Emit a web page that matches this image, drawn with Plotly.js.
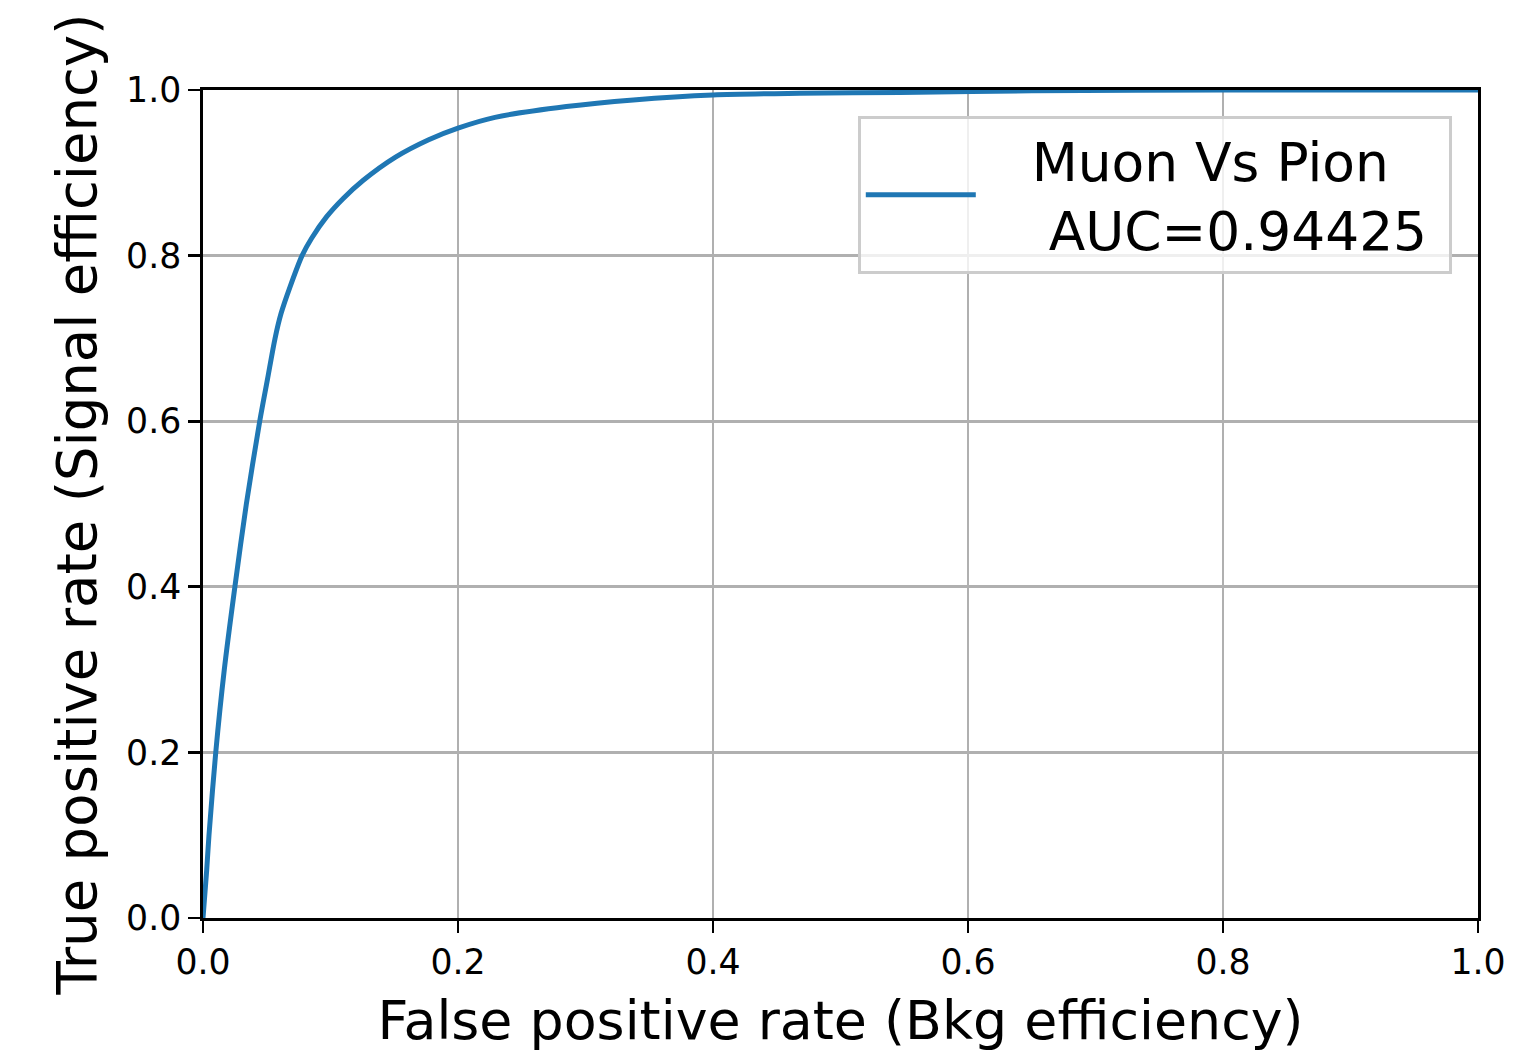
<!DOCTYPE html>
<html>
<head>
<meta charset="utf-8">
<script src="https://cdn.plot.ly/plotly-3.0.1.min.js"></script>
<style>html,body{margin:0;padding:0;background:#fff;}#chart{width:1527px;height:1054px;}</style>
</head>
<body>
<div id="chart"></div>
<script>
const fpr = [0, 0.0029, 0.0047, 0.0100, 0.0167, 0.025, 0.034, 0.0445, 0.0505, 0.0565, 0.0612, 0.0682, 0.0777, 0.0852, 0.097, 0.110, 0.1257, 0.151, 0.177, 0.200, 0.229, 0.285, 0.3375, 0.400, 0.468, 0.547, 0.65, 0.8, 1.0];
const tpr = [0, 0.058, 0.10, 0.20, 0.30, 0.40, 0.50, 0.60, 0.65, 0.70, 0.73, 0.762, 0.80, 0.821, 0.847, 0.869, 0.891, 0.919, 0.940, 0.954, 0.967, 0.980, 0.988, 0.994, 0.996, 0.997, 0.999, 1.0, 1.0];
const seriesName = "&nbsp;&nbsp;&nbsp;Muon Vs Pion<br>&nbsp;&nbsp;&nbsp;&nbsp;AUC=0.94425&nbsp;";
const tickVals = [0, 0.2, 0.4, 0.6, 0.8, 1.0];
const tickText = ["0.0", "0.2", "0.4", "0.6", "0.8", "1.0"];
const xTitle = "False positive rate (Bkg efficiency)";
const yTitle = "True positive rate (Signal efficiency)";

const font = "DejaVu Sans, sans-serif";
const trace = {
  x: fpr, y: tpr, type: "scatter", mode: "lines", name: seriesName,
  line: {color: "#1f77b4", width: 5, shape: "spline", smoothing: 0.8}
};
const axisCommon = {
  range: [0, 1], tickvals: tickVals, ticktext: tickText,
  showgrid: true, gridcolor: "#b0b0b0", gridwidth: 2.8,
  zeroline: false, showline: true, linecolor: "#000", linewidth: 2.8, mirror: true,
  ticks: "outside", ticklen: 12, tickwidth: 2.8, tickcolor: "#000",
  tickfont: {family: font, size: 34.7, color: "#000"}
};
const layout = {
  width: 1527, height: 1054,
  margin: {l: 203, r: 49, t: 90, b: 136, pad: 0},
  paper_bgcolor: "#fff", plot_bgcolor: "#fff",
  font: {family: font, color: "#000"},
  xaxis: Object.assign({}, axisCommon, {title: {text: xTitle, font: {family: font, size: 53.8}, standoff: 20}}),
  yaxis: Object.assign({}, axisCommon, {title: {text: yTitle, font: {family: font, size: 54.5}, standoff: 12}}),
  showlegend: true,
  legend: {
    x: 0.9796, y: 0.9686, xanchor: "right", yanchor: "top",
    bgcolor: "rgba(255,255,255,0.8)", bordercolor: "#cccccc", borderwidth: 2.8,
    font: {family: font, size: 53.4, color: "#000"}, itemwidth: 110
  }
};
Plotly.newPlot("chart", [trace], layout, {displayModeBar: false, staticPlot: true});
</script>
</body>
</html>
